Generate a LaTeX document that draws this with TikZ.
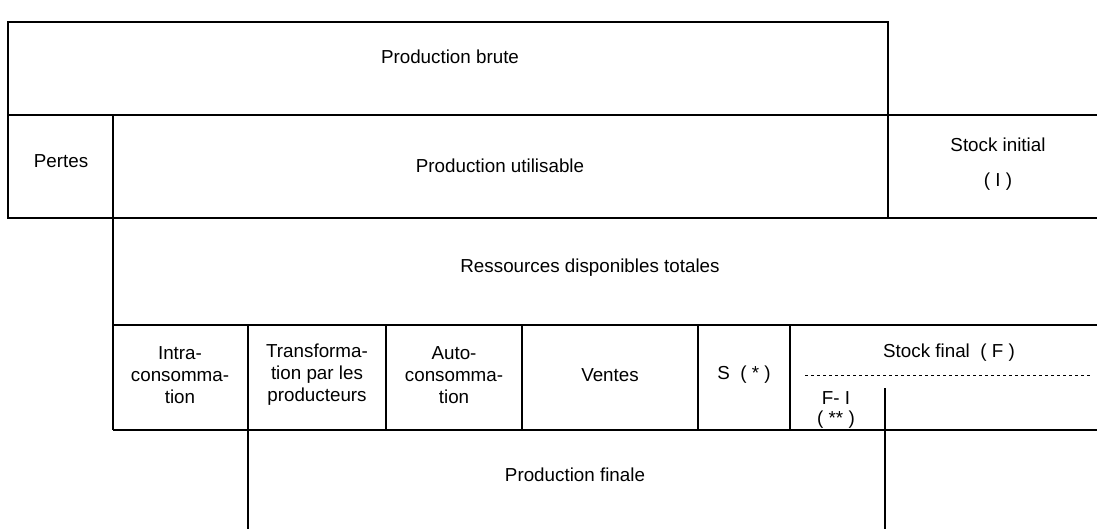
\documentclass[tikz,border=0pt]{standalone}
\usepackage{fontspec}
\setmainfont{Liberation Sans}
\begin{document}
\begin{tikzpicture}[x=1pt,y=-1pt,line width=1.5pt,
    lbl/.style={font=\fontsize{18.8}{22}\selectfont,align=center,inner sep=0pt}]
  \useasboundingbox (0,0) rectangle (1097,529);

  % --- cadre ---
  \draw (8,22) rectangle (888,115);
  \draw (8,115) -- (1097,115);
  \draw (8,115) -- (8,218) -- (1097,218);
  \draw (888,115) -- (888,218);
  \draw (113,115) -- (113,430);
  \draw (113,325) -- (1097,325);
  \draw (113,430) -- (1097,430);
  \foreach \x in {248,386,522,698,790}
    \draw (\x,325) -- (\x,430);
  \draw (248,430) -- (248,529);
  \draw (885,388) -- (885,529);
  \draw[dashed,line width=1pt] (805,375) -- (1092,375);

  % --- textes ---
  \node[lbl] (brute) at (450,57) {Production brute};
  \node[lbl] (pertes) at (61,161) {Pertes};
  \node[lbl] (utilisable) at (500,166) {Production utilisable};
  \node[lbl] (initial) at (998,145) {Stock initial};
  \node[lbl] (initI) at (998,182) {( I )};
  \node[lbl] (ressources) at (590,268) {Ressources disponibles totales};
  \node[lbl] (intra) at (180,375) {Intra-\\consomma-\\tion};
  \node[lbl] (transfo) at (317,375) {Transforma-\\tion par les\\producteurs};
  \node[lbl] (auto) at (454,375) {Auto-\\consomma-\\tion};
  \node[lbl] (ventes) at (610,375) {Ventes};
  \node[lbl] (s) at (744,375) {S\ \ ( * )};
  \node[lbl] (final) at (949,353) {Stock final\ \ ( F )};
  \node[lbl] (fi) at (836,398) {F- I};
  \node[lbl] (fii) at (836,420) {( ** )};
  \node[lbl] (finale) at (575,475) {Production finale};
\end{tikzpicture}
\end{document}
